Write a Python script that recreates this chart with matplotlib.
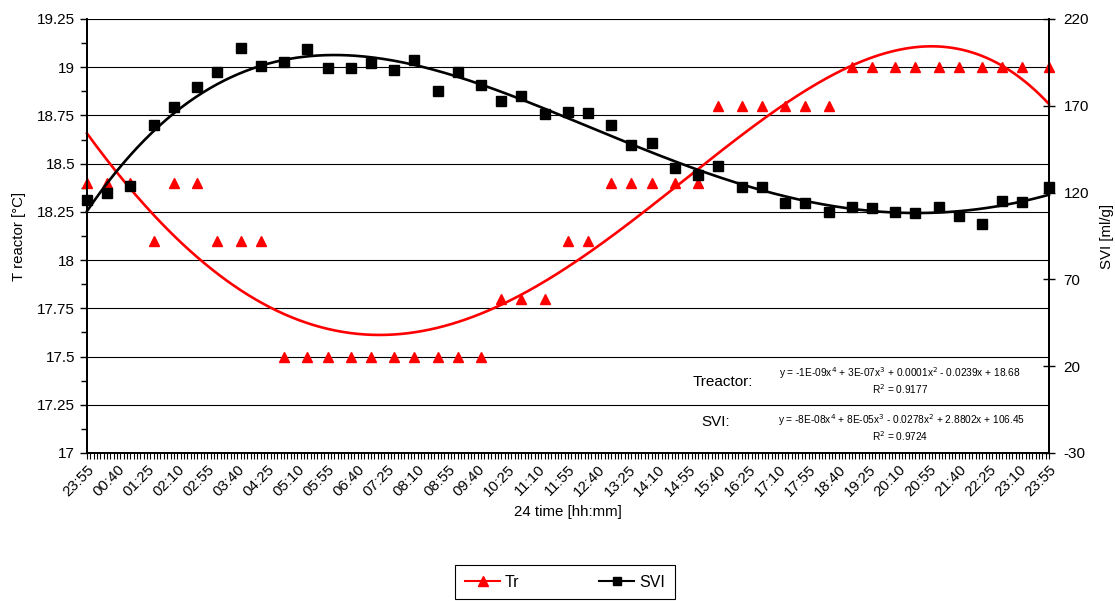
import numpy as np
import matplotlib
matplotlib.use("Agg")
import matplotlib.pyplot as plt
from matplotlib.ticker import MultipleLocator, FuncFormatter
from matplotlib.lines import Line2D

plt.rcParams['font.family'] = ['Liberation Sans', 'DejaVu Sans']
plt.rcParams['axes.unicode_minus'] = False

# ---- data ----
# minutes elapsed since 23:55 (start of the 24 h run)
minutes = [0, 30, 65, 100, 130, 165, 195, 230, 260, 295, 330, 360, 395, 425, 460,
           490, 525, 555, 590, 620, 650, 685, 720, 750, 785, 815, 845, 880, 915, 945,
           980, 1010, 1045, 1075, 1110, 1145, 1175, 1210, 1240, 1275, 1305, 1340, 1370,
           1400, 1440]
tr = [18.4, 18.4, 18.4, 18.1, 18.4, 18.4, 18.1, 18.1, 18.1, 17.5,
      17.5, 17.5, 17.5, 17.5, 17.5, 17.5, 17.5, 17.5, 17.5, 17.8,
      17.8, 17.8, 18.1, 18.1, 18.4, 18.4, 18.4, 18.4, 18.4, 18.8,
      18.8, 18.8, 18.8, 18.8, 18.8, 19.0, 19.0, 19.0, 19.0, 19.0,
      19.0, 19.0, 19.0, 19.0, 19.0]
svi = [115.7, 119.9, 123.8, 158.9, 169.1, 180.8, 189.6, 203.1, 193.1, 195.4,
       202.7, 191.6, 192.0, 194.8, 190.6, 196.4, 178.7, 189.6, 182.0, 172.9,
       175.6, 165.5, 166.6, 166.0, 158.9, 147.4, 148.4, 134.0, 130.1, 135.3,
       123.4, 123.4, 114.2, 114.2, 109.0, 111.5, 111.3, 108.6, 108.0, 111.5,
       106.7, 101.9, 115.3, 114.8, 123.0]
tick_labels = ["23:55", "00:40", "01:25", "02:10", "02:55", "03:40", "04:25", "05:10",
               "05:55", "06:40", "07:25", "08:10", "08:55", "09:40", "10:25", "11:10",
               "11:55", "12:40", "13:25", "14:10", "14:55", "15:40", "16:25", "17:10",
               "17:55", "18:40", "19:25", "20:10", "20:55", "21:40", "22:25", "23:10",
               "23:55"]

W, H = 1115, 601
fig = plt.figure(figsize=(W / 100, H / 100), dpi=100)
L, R, T, B = 87, 1049, 19, 453
ax = fig.add_axes([L / W, 1 - B / H, (R - L) / W, (B - T) / H])
ax2 = ax.twinx()

x = np.array(minutes, dtype=float)
xs = np.linspace(0, 1440, 400)

# trendlines (4th order polynomial)
p_tr = np.polyfit(x, tr, 4)
p_svi = np.polyfit(x, svi, 4)

ax.plot(xs, np.polyval(p_tr, xs), color='#ff0000', lw=1.9, zorder=3, clip_on=False)
ax.plot(x, tr, linestyle='none', marker='^', color='#ff0000', ms=7.5, zorder=4, clip_on=False)

ax2.plot(xs, np.polyval(p_svi, xs), color='black', lw=1.9, zorder=3, clip_on=False)
ax2.plot(x, svi, linestyle='none', marker='s', color='black', ms=6.5, zorder=4, clip_on=False)

# axes
ax.set_xlim(0, 1440)
ax.set_ylim(17, 19.25)
ax2.set_ylim(-30, 220)

ax.set_xticks(np.arange(0, 1441, 45))
ax.set_xticklabels(tick_labels, rotation=45, ha='right', rotation_mode='anchor', fontsize=10.8)
ax.xaxis.set_minor_locator(MultipleLocator(5))
ax.tick_params(axis='x', which='both', direction='out', length=4, width=0.8, pad=3)

ax.yaxis.set_major_locator(MultipleLocator(0.25))
ax.yaxis.set_minor_locator(MultipleLocator(0.125))
ax.yaxis.set_major_formatter(FuncFormatter(lambda v, p: f"{v:g}"))
ax.tick_params(axis='y', which='major', direction='out', length=5, width=1, labelsize=11)
ax.tick_params(axis='y', which='minor', direction='out', length=4, width=1)

ax2.set_yticks([-30, 20, 70, 120, 170, 220])
ax2.tick_params(axis='y', direction='inout', length=9, width=1, labelsize=11, pad=6)

ax.yaxis.grid(True, which='major', color='black', lw=0.8)
ax.set_axisbelow(True)

for a in (ax, ax2):
    a.spines['top'].set_visible(False)
    for s in ('left', 'right', 'bottom'):
        a.spines[s].set_linewidth(1.3)
        a.spines[s].set_color('black')

ax.set_ylabel("T reactor [°C]", fontsize=10.8, labelpad=8)
ax2.set_ylabel("SVI [ml/g]", fontsize=10.8, labelpad=8)
ax.set_xlabel("24 time [hh:mm]", fontsize=10.8, labelpad=4)

# trendline equations
def fx(px):
    return px / W

def fy(py):
    return 1 - py / H

fig.text(fx(693), fy(382), "Treactor:", fontsize=11, va='center', ha='left')
fig.text(fx(900), fy(373), r"y = -1E-09x$^4$ + 3E-07x$^3$ + 0.0001x$^2$ - 0.0239x + 18.68",
         fontsize=7.3, va='center', ha='center')
fig.text(fx(900), fy(389), r"R$^2$ = 0.9177", fontsize=7.3, va='center', ha='center')
fig.text(fx(701), fy(422), "SVI:", fontsize=11, va='center', ha='left')
fig.text(fx(902), fy(420), r"y = -8E-08x$^4$ + 8E-05x$^3$ - 0.0278x$^2$ + 2.8802x + 106.45",
         fontsize=7.3, va='center', ha='center')
fig.text(fx(900), fy(436), r"R$^2$ = 0.9724", fontsize=7.3, va='center', ha='center')

handles = [Line2D([], [], color='#ff0000', marker='^', ms=7, lw=1.5),
           Line2D([], [], color='black', marker='s', ms=6, lw=1.5)]
leg = fig.legend(handles, ["Tr", "SVI"], loc='upper center', bbox_to_anchor=(fx(565), fy(565)),
                 ncol=2, frameon=True, fancybox=False, edgecolor='black', framealpha=1,
                 fontsize=11.5, columnspacing=5, handlelength=2.2, handletextpad=0.3,
                 borderpad=0.6, borderaxespad=0)
leg.get_frame().set_linewidth(0.8)

fig.savefig("out.png", dpi=100)
